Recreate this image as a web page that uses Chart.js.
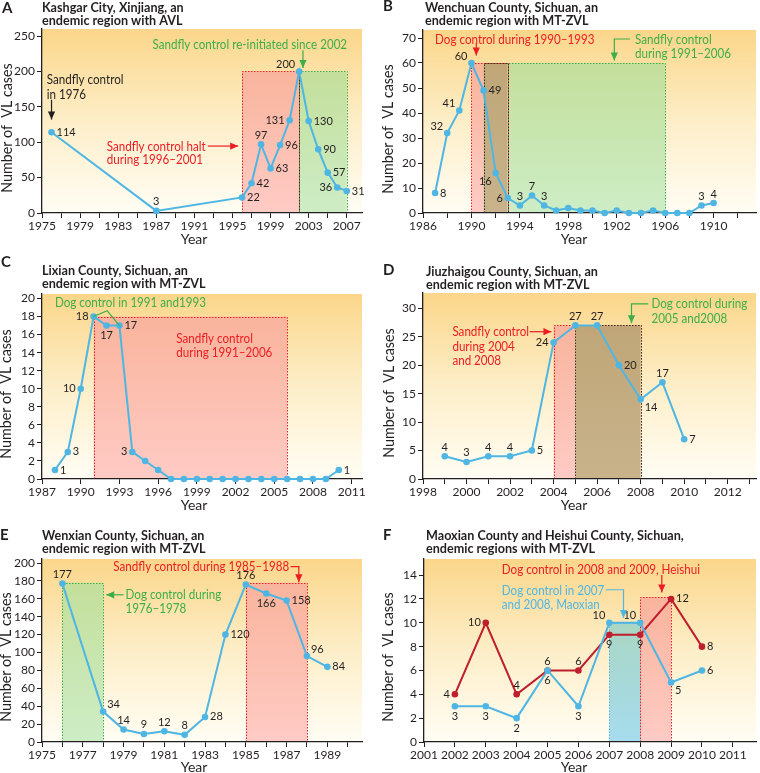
<!DOCTYPE html>
<html>
<head>
<meta charset="utf-8">
<script src="https://cdn.jsdelivr.net/npm/chart.js@4.4.0/dist/chart.umd.min.js"></script>
<style>
  html, body { margin: 0; padding: 0; background: #fff; }
  #wrap { position: relative; width: 760px; height: 773px; }
  canvas { position: absolute; }
</style>
</head>
<body>
<div id="wrap">
  <canvas id="panelA" width="380" height="250" style="left:0;top:0"></canvas>
  <canvas id="panelB" width="380" height="250" style="left:380px;top:0"></canvas>
  <canvas id="panelC" width="380" height="260" style="left:0;top:250px"></canvas>
  <canvas id="panelD" width="380" height="260" style="left:380px;top:250px"></canvas>
  <canvas id="panelE" width="380" height="263" style="left:0;top:510px"></canvas>
  <canvas id="panelF" width="380" height="263" style="left:380px;top:510px"></canvas>
</div>
<script>
// ---- data ----
// A: Kashgar City
const yearsA = [1976, 1987, 1996, 1997, 1998, 1999, 2000, 2001, 2002, 2003, 2004, 2005, 2006, 2007];
const casesA = [114, 3, 22, 42, 97, 63, 96, 131, 200, 130, 90, 57, 36, 31];
const labelYearsA = [1975, 1979, 1983, 1987, 1991, 1995, 1999, 2003, 2007];
const labelTextA = ['1975', '1979', '1983', '1987', '1991', '1995', '1999', '2003', '2007'];

// B: Wenchuan County (tick labels printed as in the source)
const yearsB = [1987, 1988, 1989, 1990, 1991, 1992, 1993, 1994, 1995, 1996, 1997, 1998,
                1999, 2000, 2001, 2002, 2003, 2004, 2005, 2006, 2007, 2008, 2009, 2010];
const casesB = [8, 32, 41, 60, 49, 16, 6, 3, 7, 3, 1, 2, 1, 1, 0, 1, 0, 0, 1, 0, 0, 0, 3, 4];
const labelYearsB = [1986, 1990, 1994, 1998, 2002, 2006, 2010];
const labelTextB = ['1986', '1990', '1994', '1998', '1902', '1906', '1910'];

// C: Lixian County
const yearsC = [1988, 1989, 1990, 1991, 1992, 1993, 1994, 1995, 1996, 1997, 1998, 1999,
                2000, 2001, 2002, 2003, 2004, 2005, 2006, 2007, 2008, 2009, 2010];
const casesC = [1, 3, 10, 18, 17, 17, 3, 2, 1, 0, 0, 0, 0, 0, 0, 0, 0, 0, 0, 0, 0, 0, 1];
const labelYearsC = [1987, 1990, 1993, 1996, 1999, 2002, 2005, 2008, 2011];
const labelTextC = ['1987', '1990', '1993', '1996', '1999', '2002', '2005', '2008', '2011'];

// D: Jiuzhaigou County
const yearsD = [1999, 2000, 2001, 2002, 2003, 2004, 2005, 2006, 2007, 2008, 2009, 2010];
const casesD = [4, 3, 4, 4, 5, 24, 27, 27, 20, 14, 17, 7];
const labelYearsD = [1998, 2000, 2002, 2004, 2006, 2008, 2010, 2012];
const labelTextD = ['1998', '2000', '2002', '2004', '2006', '2008', '2010', '2012'];

// E: Wenxian County
const yearsE = [1976, 1978, 1979, 1980, 1981, 1982, 1983, 1984, 1985, 1986, 1987, 1988, 1989];
const casesE = [177, 34, 14, 9, 12, 8, 28, 120, 176, 166, 158, 96, 84];
const labelYearsE = [1975, 1977, 1979, 1981, 1983, 1985, 1987, 1989];
const labelTextE = ['1975', '1977', '1979', '1981', '1983', '1985', '1987', '1989'];

// F: Maoxian and Heishui
const yearsF = [2002, 2003, 2004, 2005, 2006, 2007, 2008, 2009, 2010];
const heishuiF = [4, 10, 4, 6, 6, 9, 9, 12, 8];
const maoxianF = [3, 3, 2, 6, 3, 10, 10, 5, 6];
const labelYearsF = [2001, 2002, 2003, 2004, 2005, 2006, 2007, 2008, 2009, 2010, 2011];
const labelTextF = ['2001', '2002', '2003', '2004', '2005', '2006', '2007', '2008', '2009', '2010', '2011'];

// where each value label sits next to its point ('' = no label)
const placeA = ['r', 't', 'r', 'r', 't', 'r', 'r', 'l', 'tl', 'r', 'r', 'r', 'l', 'r'];
const placeB = ['r', 'tl', 'tl', 'tl', 'r', 'bl', 'l', 't', 't', 't', '', '', '', '', '', '', '', '', '', '', '', '', 't', 't'];
const placeC = ['r', 'r', 'l', 'l', 'b', 'r', 'l', '', '', '', '', '', '', '', '', '', '', '', '', '', '', '', 'r'];
const placeD = ['t', 't', 't', 't', 'r', 'l', 't', 't', 'r', 'br', 't', 'r'];
const placeE = ['t', 'tr', 't', 't', 't', 't', 'r', 'r', 't', 'b', 'r', 'tr', 'r'];
const placeHeishui = ['l', 'l', 't', 't', 't', 'b', 'b', 'r', 'r'];
const placeMaoxian = ['b', 'b', 'b', 'b', 'b', 'tl', 'tl', 'br', 'r'];

// ---- styles ----
const INK = '#231f20';
const RED = '#ed1c24';
const GREEN = '#3cae48';
const BLUE = '#4fb6e3';
const DARKRED = '#be1e2d';
const DARK = '#3a3020';
const FONT = 'Lato, "Open Sans", sans-serif';
const FILLS = {
  red: ['#f9b49c', '#ffcbc5'],
  green: ['#c4df9b', '#cdedc6'],
  brown: ['#c0a677', '#c8b38c'],
  teal: ['#a9d6c3', '#a6dcee']
};

function arrowHead(ctx, x0, y0, x1, y1, color) {
  const a = Math.atan2(y1 - y0, x1 - x0), L = 8, W = 3.6;
  ctx.beginPath();
  ctx.moveTo(x1, y1);
  ctx.lineTo(x1 - L * Math.cos(a) + W * Math.sin(a), y1 - L * Math.sin(a) - W * Math.cos(a));
  ctx.lineTo(x1 - L * Math.cos(a) - W * Math.sin(a), y1 - L * Math.sin(a) + W * Math.cos(a));
  ctx.closePath();
  ctx.fillStyle = color;
  ctx.fill();
}

// text squeezed horizontally, the source face is narrower than Lato
function squeezed(ctx, text, x, y, k) {
  ctx.save();
  ctx.translate(x, y);
  ctx.scale(k, 1);
  ctx.fillText(text, 0, 0);
  ctx.restore();
}

const OFFS = {
  r: [5, 0, 'left'], l: [-5, 0, 'right'], t: [0, -9, 'center'], b: [0, 10, 'center'],
  tl: [-4, -7, 'right'], tr: [4, -7, 'left'], bl: [-4, 8, 'right'], br: [4, 8, 'left']
};

function panelPlugin(cfg) {
  return {
    id: 'panel' + cfg.letter,
    beforeDraw(chart) {
      const { ctx, chartArea: a } = chart;
      const sx = chart.scales.x, sy = chart.scales.y;
      ctx.save();
      // yellow backdrop
      const g = ctx.createLinearGradient(0, a.top, 0, a.bottom);
      g.addColorStop(0, '#fbd68a');
      g.addColorStop(0.5, '#fdeec8');
      g.addColorStop(1, '#fffdf4');
      ctx.fillStyle = g;
      ctx.fillRect(a.left, a.top, a.right - a.left, a.bottom - a.top);
      // shaded control periods
      cfg.shades.forEach(s => {
        const x0 = sx.getPixelForValue(s.from), x1 = sx.getPixelForValue(s.to);
        const yT = sy.getPixelForValue(s.top);
        const gr = ctx.createLinearGradient(0, yT, 0, a.bottom);
        gr.addColorStop(0, FILLS[s.fill][0]);
        gr.addColorStop(1, FILLS[s.fill][1]);
        ctx.fillStyle = gr;
        ctx.fillRect(x0, yT, x1 - x0, a.bottom - yT - 1);
      });
      // dotted frames
      ctx.setLineDash([1.5, 1.5]);
      ctx.lineWidth = 1;
      cfg.frames.forEach(f => {
        const x0 = Math.round(sx.getPixelForValue(f.from)) + 0.5;
        const x1 = Math.round(sx.getPixelForValue(f.to)) + 0.5;
        const yT = Math.round(sy.getPixelForValue(f.top)) + 0.5;
        ctx.strokeStyle = f.color;
        ctx.beginPath();
        ctx.moveTo(x0, a.bottom);
        ctx.lineTo(x0, yT);
        ctx.lineTo(x1, yT);
        ctx.lineTo(x1, a.bottom);
        ctx.stroke();
      });
      ctx.restore();
    },
    afterDatasetsDraw(chart) {
      const { ctx } = chart;
      const sx = chart.scales.x, sy = chart.scales.y;
      ctx.save();
      // value labels
      ctx.font = '11px ' + FONT;
      ctx.fillStyle = INK;
      ctx.textBaseline = 'middle';
      cfg.series.forEach((s, i) => {
        chart.getDatasetMeta(i).data.forEach((pt, j) => {
          const o = OFFS[s.place[j]];
          if (!o) return;
          ctx.textAlign = o[2];
          ctx.fillText(String(s.values[j]), pt.x + o[0], pt.y + o[1]);
        });
      });
      // annotation texts
      ctx.font = '14px ' + FONT;
      ctx.textAlign = 'left';
      cfg.notes.forEach(n => {
        ctx.fillStyle = n.color;
        squeezed(ctx, n.text, sx.getPixelForValue(n.x), sy.getPixelForValue(n.y), 0.83);
      });
      // arrows and leader lines
      ctx.lineWidth = 1.2;
      cfg.arrows.forEach(ar => {
        const p = ar.pts.map(q => [sx.getPixelForValue(q[0]), sy.getPixelForValue(q[1])]);
        ctx.strokeStyle = ar.color;
        ctx.beginPath();
        ctx.moveTo(p[0][0], p[0][1]);
        for (let k = 1; k < p.length; k++) ctx.lineTo(p[k][0], p[k][1]);
        ctx.stroke();
        if (ar.head !== false) {
          const n = p.length;
          arrowHead(ctx, p[n - 2][0], p[n - 2][1], p[n - 1][0], p[n - 1][1], ar.color);
        }
      });
      ctx.restore();
    },
    afterDraw(chart) {
      const { ctx } = chart;
      ctx.save();
      ctx.fillStyle = INK;
      ctx.textBaseline = 'middle';
      ctx.textAlign = 'left';
      ctx.font = 'bold 15px ' + FONT;
      ctx.fillText(cfg.letter, cfg.letterPos[0], cfg.letterPos[1]);
      ctx.font = 'bold 14px ' + FONT;
      cfg.title.forEach((t, i) => squeezed(ctx, t, cfg.titlePos[0], cfg.titlePos[1] + i * 13.5, 0.9));
      // axis titles
      ctx.font = '14px ' + FONT;
      ctx.textAlign = 'center';
      ctx.fillText('Year', 194, cfg.yearY);
      ctx.translate(cfg.yTitle[0], cfg.yTitle[1]);
      ctx.rotate(-Math.PI / 2);
      ctx.font = '15px ' + FONT;
      squeezed(ctx, 'Number of  VL cases', 0, 0, 0.95);
      ctx.restore();
    }
  };
}

function makePanel(id, cfg) {
  const canvas = document.getElementById(id);
  const W = canvas.width, H = canvas.height, p = cfg.plot;
  const xs = cfg.x;
  const axisGrid = { drawOnChartArea: false, color: INK, tickLength: 5, lineWidth: 1 };
  const axisBorder = { color: INK, width: 1.3 };
  const tickFont = { family: FONT, size: 12 };
  new Chart(canvas, {
    type: 'line',
    data: {
      datasets: cfg.series.map(s => ({
        data: s.years.map((yr, i) => ({ x: yr, y: s.values[i] })),
        borderColor: s.color,
        backgroundColor: s.color,
        pointBackgroundColor: s.color,
        pointBorderWidth: 0,
        pointRadius: 3.3,
        borderWidth: 2,
        tension: 0,
        clip: false
      }))
    },
    options: {
      responsive: false,
      animation: false,
      events: [],
      layout: { padding: { left: 0, top: p.top, right: W - p.right, bottom: 0 } },
      plugins: { legend: { display: false }, tooltip: { enabled: false } },
      scales: {
        x: {
          type: 'linear',
          min: xs.min,
          max: xs.max,
          afterBuildTicks: sc => {
            const t = [];
            for (let v = xs.min; v <= xs.max + 1e-6; v += xs.step) t.push({ value: v });
            sc.ticks = t;
          },
          afterFit: sc => { sc.height = H - p.bottom; },
          grid: axisGrid,
          border: axisBorder,
          ticks: {
            autoSkip: false, maxRotation: 0, padding: 1, color: INK, font: tickFont,
            callback: v => {
              const k = xs.labelYears.indexOf(v);
              return k >= 0 ? xs.labelText[k] : '';
            }
          }
        },
        y: {
          min: 0,
          max: cfg.y.max,
          afterFit: sc => { sc.width = p.left; },
          grid: axisGrid,
          border: axisBorder,
          ticks: { stepSize: cfg.y.step, includeBounds: false, autoSkip: false, padding: 2, color: INK, font: tickFont }
        }
      }
    },
    plugins: [panelPlugin(cfg)]
  });
}

makePanel('panelA', {
  letter: 'A', letterPos: [2, 8], titlePos: [42, 7], yearY: 239, yTitle: [7, 128],
  title: ['Kashgar City, Xinjiang, an', 'endemic region with AVL'],
  plot: { left: 42, right: 362, top: 29, bottom: 213 },
  x: { min: 1975, max: 2008.6, step: 2, labelYears: labelYearsA, labelText: labelTextA },
  y: { max: 260, step: 50 },
  series: [{ years: yearsA, values: casesA, place: placeA, color: BLUE }],
  shades: [
    { from: 1996, to: 2002, top: 200, fill: 'red' },
    { from: 2002, to: 2007, top: 200, fill: 'green' }
  ],
  frames: [
    { from: 1996, to: 2002, top: 200, color: RED },
    { from: 2002, to: 2007, top: 200, color: GREEN },
    { from: 2002, to: 2002, top: 200, color: DARK }
  ],
  notes: [
    { text: 'Sandfly control', x: 1975.5, y: 188, color: INK },
    { text: 'in 1976', x: 1975.5, y: 168, color: INK },
    { text: 'Sandfly control halt', x: 1981.8, y: 94.6, color: RED },
    { text: 'during 1996\u20132001', x: 1981.8, y: 76, color: RED },
    { text: 'Sandfly control re-initiated since 2002', x: 1986.6, y: 238.7, color: GREEN }
  ],
  arrows: [
    { pts: [[1976, 160], [1976, 132]], color: INK },
    { pts: [[1992.4, 94.6], [1995.6, 94.6]], color: RED },
    { pts: [[2002.4, 230], [2002.4, 205]], color: GREEN }
  ]
});

makePanel('panelB', {
  letter: 'B', letterPos: [3, 6], titlePos: [45, 7], yearY: 239, yTitle: [8, 129],
  title: ['Wenchuan County, Sichuan, an', 'endemic region with MT-ZVL'],
  plot: { left: 43, right: 380, top: 30, bottom: 213 },
  x: { min: 1986, max: 2013.5, step: 2, labelYears: labelYearsB, labelText: labelTextB },
  y: { max: 73.2, step: 10 },
  series: [{ years: yearsB, values: casesB, place: placeB, color: BLUE }],
  shades: [
    { from: 1990, to: 1991, top: 60, fill: 'red' },
    { from: 1991, to: 1993, top: 60, fill: 'brown' },
    { from: 1993, to: 2006, top: 60, fill: 'green' }
  ],
  frames: [
    { from: 1990, to: 1993, top: 60, color: RED },
    { from: 1991, to: 2006, top: 60, color: GREEN },
    { from: 1991, to: 1993, top: 60, color: DARK }
  ],
  notes: [
    { text: 'Dog control during 1990\u20131993', x: 1987, y: 69.6, color: RED },
    { text: 'Sandfly control', x: 2003.5, y: 69.6, color: GREEN },
    { text: 'during 1991\u20132006', x: 2003.5, y: 64, color: GREEN }
  ],
  arrows: [
    { pts: [[1990.4, 68], [1990.4, 63]], color: RED },
    { pts: [[2003.1, 69.6], [2001.8, 69.6], [2001.8, 61]], color: GREEN }
  ]
});

makePanel('panelC', {
  letter: 'C', letterPos: [1, 12], titlePos: [42, 20], yearY: 255, yTitle: [6, 144],
  title: ['Lixian County, Sichuan, an', 'endemic region with MT-ZVL'],
  plot: { left: 42, right: 362, top: 44, bottom: 229 },
  x: { min: 1987, max: 2011.8, step: 3, labelYears: labelYearsC, labelText: labelTextC },
  y: { max: 20.5, step: 2 },
  series: [{ years: yearsC, values: casesC, place: placeC, color: BLUE }],
  shades: [{ from: 1991, to: 2006, top: 18, fill: 'red' }],
  frames: [{ from: 1991, to: 2006, top: 18, color: RED }],
  notes: [
    { text: 'Dog control in 1991 and1993', x: 1988, y: 19.55, color: GREEN },
    { text: 'Sandfly control', x: 1997.4, y: 15.6, color: RED },
    { text: 'during 1991\u20132006', x: 1997.4, y: 14, color: RED }
  ],
  arrows: [
    { pts: [[1991, 18], [1992.05, 18.65], [1993, 17]], color: GREEN, head: false }
  ]
});

makePanel('panelD', {
  letter: 'D', letterPos: [3, 20], titlePos: [46, 21], yearY: 255, yTitle: [9, 143],
  title: ['Jiuzhaigou County, Sichuan, an', 'endemic region with MT-ZVL'],
  plot: { left: 43, right: 380, top: 43, bottom: 229 },
  x: { min: 1998, max: 2013.3, step: 1, labelYears: labelYearsD, labelText: labelTextD },
  y: { max: 32.7, step: 5 },
  series: [{ years: yearsD, values: casesD, place: placeD, color: BLUE }],
  shades: [
    { from: 2004, to: 2005, top: 27, fill: 'red' },
    { from: 2005, to: 2008, top: 27, fill: 'brown' }
  ],
  frames: [
    { from: 2004, to: 2008, top: 27, color: RED },
    { from: 2005, to: 2008, top: 27, color: DARK }
  ],
  notes: [
    { text: 'Sandfly control', x: 1999.35, y: 25.9, color: RED },
    { text: 'during 2004', x: 1999.35, y: 23.3, color: RED },
    { text: 'and 2008', x: 1999.35, y: 20.9, color: RED },
    { text: 'Dog control during', x: 2008.5, y: 30.8, color: GREEN },
    { text: '2005 and2008', x: 2008.5, y: 28.3, color: GREEN }
  ],
  arrows: [
    { pts: [[2002.9, 25.9], [2003.9, 25.9]], color: RED },
    { pts: [[2008.35, 30.8], [2007.58, 30.8], [2007.58, 27.4]], color: GREEN }
  ]
});

makePanel('panelE', {
  letter: 'E', letterPos: [0, 25], titlePos: [42, 25], yearY: 257, yTitle: [6, 147],
  title: ['Wenxian County, Sichuan, an', 'endemic region with MT-ZVL'],
  plot: { left: 42, right: 362, top: 49, bottom: 232 },
  x: { min: 1975, max: 1990.7, step: 1, labelYears: labelYearsE, labelText: labelTextE },
  y: { max: 204.5, step: 20 },
  series: [{ years: yearsE, values: casesE, place: placeE, color: BLUE }],
  shades: [
    { from: 1976, to: 1978, top: 178, fill: 'green' },
    { from: 1985, to: 1988, top: 178, fill: 'red' }
  ],
  frames: [
    { from: 1976, to: 1978, top: 178, color: GREEN },
    { from: 1985, to: 1988, top: 178, color: RED }
  ],
  notes: [
    { text: 'Sandfly control during 1985\u20131988', x: 1978.5, y: 196, color: RED },
    { text: 'Dog control during', x: 1979.1, y: 164.5, color: GREEN },
    { text: '1976\u20131978', x: 1979.1, y: 149, color: GREEN }
  ],
  arrows: [
    { pts: [[1987.2, 196], [1987.6, 196], [1987.6, 178.5]], color: RED },
    { pts: [[1979, 164.5], [1978.15, 164.5]], color: GREEN }
  ]
});

makePanel('panelF', {
  letter: 'F', letterPos: [3, 25], titlePos: [46, 25], yearY: 257, yTitle: [8, 147],
  title: ['Maoxian County and Heishui County, Sichuan,', 'endemic regions with MT-ZVL'],
  plot: { left: 44, right: 380, top: 49, bottom: 232 },
  x: { min: 2001, max: 2011.75, step: 1, labelYears: labelYearsF, labelText: labelTextF },
  y: { max: 15.35, step: 2 },
  series: [
    { years: yearsF, values: maoxianF, place: placeMaoxian, color: BLUE },
    { years: yearsF, values: heishuiF, place: placeHeishui, color: DARKRED }
  ],
  shades: [
    { from: 2007, to: 2008, top: 10, fill: 'teal' },
    { from: 2008, to: 2009, top: 12.15, fill: 'red' }
  ],
  frames: [
    { from: 2007, to: 2008, top: 10, color: BLUE },
    { from: 2008, to: 2009, top: 12.15, color: RED }
  ],
  notes: [
    { text: 'Dog control in 2008 and 2009, Heishui', x: 2003.52, y: 14.45, color: RED },
    { text: 'Dog control in 2007', x: 2003.52, y: 12.68, color: BLUE },
    { text: 'and 2008, Maoxian', x: 2003.52, y: 11.5, color: BLUE }
  ],
  arrows: [
    { pts: [[2008.7, 14], [2008.7, 12.55]], color: RED },
    { pts: [[2006.88, 12.77], [2007.46, 12.77], [2007.46, 10.4]], color: BLUE }
  ]
});
</script>
</body>
</html>
